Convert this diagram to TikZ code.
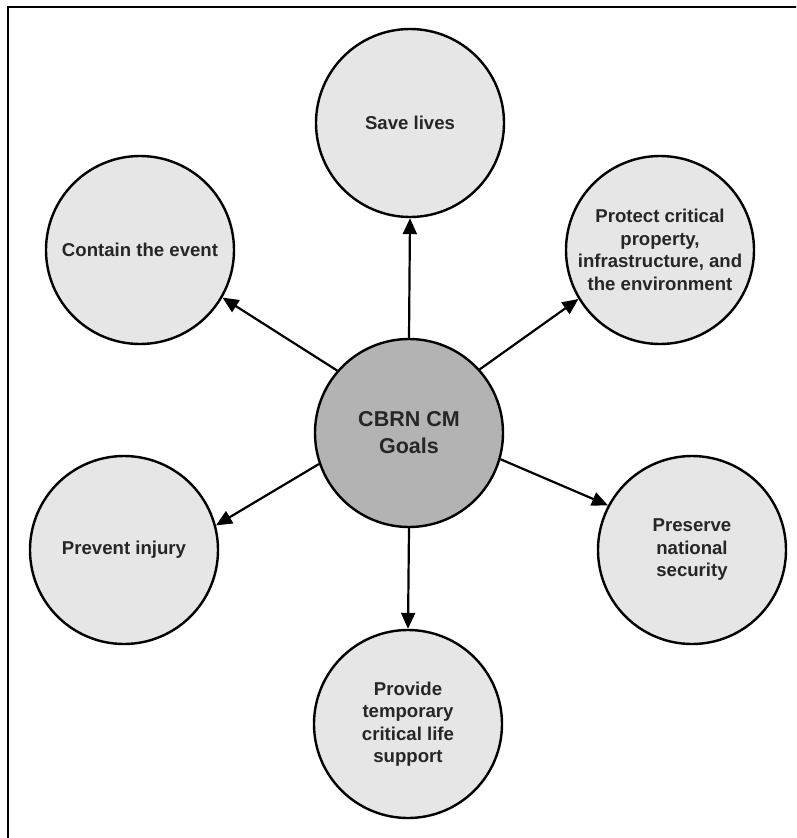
\documentclass[tikz,border=0pt]{standalone}
\usepackage{fontspec}
\setmainfont{Liberation Sans}
\usetikzlibrary{arrows.meta}
\definecolor{goalfill}{HTML}{E6E6E6}
\definecolor{hubfill}{HTML}{B3B3B3}
\definecolor{ink}{HTML}{262626}
\definecolor{edge}{HTML}{000000}
\begin{document}
\begin{tikzpicture}[
  x=1pt, y=-1pt,
  goal/.style={circle, fill=goalfill, draw=edge, line width=2.4pt,
               minimum size=188pt, inner sep=0pt, align=center,
               text=ink, font=\fontsize{18.6}{22.5}\selectfont\bfseries},
  hub/.style={goal, fill=hubfill, font=\fontsize{21.5}{27}\selectfont\bfseries},
  goal arrow/.style={-{Triangle[length=16pt, width=14pt]}, edge, line width=2.2pt}
]
  \useasboundingbox (0,0) rectangle (796,838);
  \clip (0,0) rectangle (796,838);
  \fill[white] (0,0) rectangle (796,838);
  \draw[edge, line width=2pt] (8,7) rectangle (810,850);

  \node[hub] (hub) at (409,433) {CBRN CM\\Goals};
  \node[goal] (lives) at (410,123) {Save lives};
  \node[goal] (contain) at (140,250) {Contain the event};
  \node[goal] (protect) at (660,250) {Protect critical\\property,\\infrastructure, and\\the environment};
  \node[goal] (prevent) at (124,550) {Prevent injury};
  \node[goal] (preserve) at (692,550) {Preserve\\national\\security};
  \node[goal] (support) at (408,724) {Provide\\temporary\\critical life\\support};

  \draw[goal arrow] (hub.90) -- (lives.270);
  \draw[goal arrow] (hub.139) -- (contain.330);
  \draw[goal arrow] (hub.42) -- (protect.211);
  \draw[goal arrow] (hub.199) -- (prevent.15);
  \draw[goal arrow] (hub.344) -- (preserve.152);
  \draw[goal arrow] (hub.270) -- (support.90);
\end{tikzpicture}
\end{document}
